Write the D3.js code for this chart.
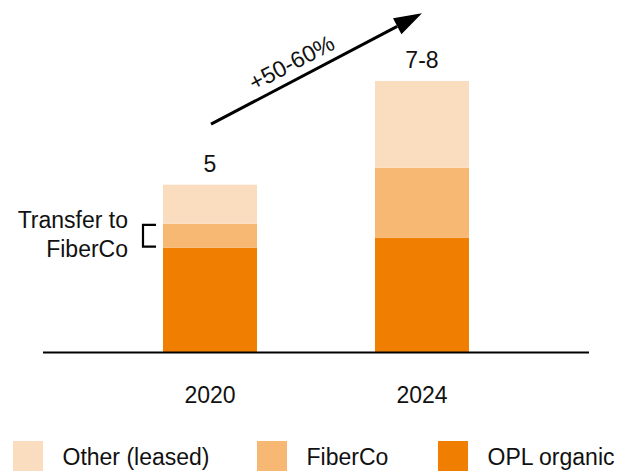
<!DOCTYPE html>
<html>
<head>
<meta charset="utf-8">
<script src="https://cdn.jsdelivr.net/npm/d3@7"></script>
<style>
    body { margin: 0; background: #fff; }
    svg text { font-family: "Liberation Sans", Arial, Helvetica, sans-serif; fill: #111; }
</style>
</head>
<body>
<script>
//chart data
var years = ["2020", "2024"];
var seriesNames = ["OPL organic", "FiberCo", "Other (leased)"];
var oplOrganic = [3.12, 3.41];
var fiberCo = [0.71, 2.10];
var otherLeased = [1.17, 2.59];
var totalLabels = ["5", "7-8"];
var growthLabel = "+50-60%";
var transferLabel = ["Transfer to", "FiberCo"];

(function(){
    var width = 620,
        height = 471,
        baseline = 352;

    var colors = {
        "OPL organic": "#F07E00",
        "FiberCo": "#F6B873",
        "Other (leased)": "#FADDBF"
    };

    var svg = d3.select("body")
        .append("svg")
        .attr("width", width)
        .attr("height", height);

    //build rows for the stack
    var rows = years.map(function(y, i){
        return {year: y, "OPL organic": oplOrganic[i], "FiberCo": fiberCo[i], "Other (leased)": otherLeased[i]};
    });
    var stacked = d3.stack().keys(seriesNames)(rows);

    var x = d3.scaleBand()
        .domain(years)
        .range([163, 469])
        .paddingInner(0.5566)
        .paddingOuter(0);

    var y = d3.scaleLinear()
        .domain([0, 5])
        .range([baseline, 184.7]);

    //bars
    svg.selectAll(".layer")
        .data(stacked)
        .enter()
        .append("g")
        .attr("class", "layer")
        .attr("fill", function(d){ return colors[d.key]; })
        .selectAll("rect")
        .data(function(d){ return d; })
        .enter()
        .append("rect")
        .attr("x", function(d){ return x(d.data.year); })
        .attr("width", x.bandwidth())
        .attr("y", function(d){ return y(d[1]); })
        .attr("height", function(d){ return y(d[0]) - y(d[1]); });

    //baseline
    svg.append("line")
        .attr("x1", 43)
        .attr("x2", 589)
        .attr("y1", baseline + 0.5)
        .attr("y2", baseline + 0.5)
        .attr("stroke", "#000")
        .attr("stroke-width", 2.2);

    //year labels
    svg.selectAll(".year")
        .data(years)
        .enter()
        .append("text")
        .attr("class", "year")
        .attr("x", function(d){ return x(d) + x.bandwidth() / 2; })
        .attr("y", 403)
        .attr("text-anchor", "middle")
        .style("font-size", "23px")
        .text(function(d){ return d; });

    //total labels
    var top = stacked[stacked.length - 1];
    svg.selectAll(".total")
        .data(top)
        .enter()
        .append("text")
        .attr("class", "total")
        .attr("x", function(d){ return x(d.data.year) + x.bandwidth() / 2; })
        .attr("y", function(d){ return y(d[1]) - 12.5; })
        .attr("text-anchor", "middle")
        .style("font-size", "23px")
        .text(function(d, i){ return totalLabels[i]; });

    //growth arrow
    var x0 = x(years[0]) + x.bandwidth() / 2 + 1,
        y0 = y(top[0][1]) - 60.5,
        x1 = x(years[1]) + x.bandwidth() / 2,
        y1 = y(top[1][1]) - 67.7;
    var ang = Math.atan2(y1 - y0, x1 - x0),
        headLen = 28,
        headHalf = 9;
    var bx = x1 - headLen * Math.cos(ang),
        by = y1 - headLen * Math.sin(ang);

    svg.append("line")
        .attr("x1", x0)
        .attr("y1", y0)
        .attr("x2", bx)
        .attr("y2", by)
        .attr("stroke", "#000")
        .attr("stroke-width", 3);

    svg.append("path")
        .attr("d", "M" + x1 + "," + y1 +
            "L" + (bx + headHalf * Math.sin(ang)) + "," + (by - headHalf * Math.cos(ang)) +
            "L" + (bx - headHalf * Math.sin(ang)) + "," + (by + headHalf * Math.cos(ang)) + "Z")
        .attr("fill", "#000");

    //growth label along the arrow
    var t = 100,
        off = 9;
    var tx = x0 + t * Math.cos(ang) + off * Math.sin(ang),
        ty = y0 + t * Math.sin(ang) - off * Math.cos(ang);
    svg.append("text")
        .attr("transform", "translate(" + tx + "," + ty + ") rotate(" + (ang * 180 / Math.PI) + ")")
        .attr("text-anchor", "middle")
        .style("font-size", "23px")
        .text(growthLabel);

    //bracket on the FiberCo part of 2020
    var fc = stacked[1][0],
        bl = x(years[0]) - 20,
        br = x(years[0]) - 7;
    svg.append("path")
        .attr("d", "M" + br + "," + (y(fc[1]) + 1) + "H" + bl + "V" + (y(fc[0]) - 1) + "H" + br)
        .attr("fill", "none")
        .attr("stroke", "#000")
        .attr("stroke-width", 2.2);

    svg.selectAll(".transfer")
        .data(transferLabel)
        .enter()
        .append("text")
        .attr("class", "transfer")
        .attr("x", 128)
        .attr("y", function(d, i){ return 228.3 + i * 29; })
        .attr("text-anchor", "end")
        .style("font-size", "23px")
        .text(function(d){ return d; });

    //legend
    var legendOrder = ["Other (leased)", "FiberCo", "OPL organic"];
    var legendX = [13, 257, 438];
    var legend = svg.selectAll(".legend")
        .data(legendOrder)
        .enter()
        .append("g")
        .attr("class", "legend")
        .attr("transform", function(d, i){ return "translate(" + legendX[i] + ",441)"; });

    legend.append("rect")
        .attr("width", 30)
        .attr("height", 30)
        .attr("fill", function(d){ return colors[d]; });

    legend.append("text")
        .attr("x", 49.5)
        .attr("y", 24)
        .style("font-size", "23px")
        .text(function(d){ return d; });
})();
</script>
</body>
</html>
